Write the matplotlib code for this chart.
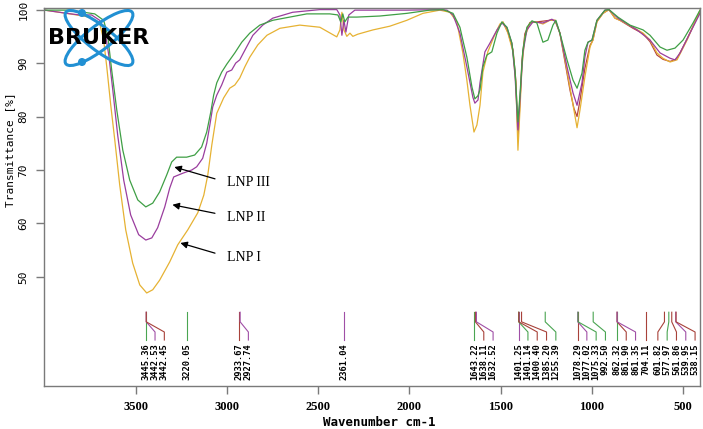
import matplotlib
matplotlib.use('Agg')
import matplotlib.pyplot as plt
from matplotlib.patches import Ellipse, Circle

# spectra: wavenumber (cm-1) and transmittance (%)
lnp1_wn = [4000, 3879, 3753, 3698, 3676, 3659, 3637, 3615, 3588, 3555, 3517, 3478, 3440, 3407,
           3369, 3314, 3270, 3215, 3160, 3127, 3105, 3083, 3056, 3018, 2985, 2957, 2930, 2902,
           2875, 2831, 2781, 2710, 2601, 2491, 2398, 2381, 2370, 2359, 2343, 2326, 2310, 2283,
           2200, 2107, 2014, 1926, 1833, 1778, 1740, 1707, 1685, 1668, 1646, 1630, 1613, 1597,
           1570, 1537, 1504, 1487, 1460, 1432, 1416, 1405, 1394, 1383, 1367, 1339, 1301, 1268,
           1230, 1202, 1175, 1147, 1120, 1098, 1081, 1065, 1038, 1010, 994, 972, 939, 906, 873,
           846, 774, 719, 681, 643, 610, 571, 533, 478, 423, 407]
lnp1_t = [99.9, 99.3, 98.6, 97.5, 94.3, 89.3, 82.1, 75.6, 67.2, 58.8, 52.6, 48.5, 47.0, 47.6,
          49.4, 52.8, 56.0, 58.8, 62.0, 65.3, 69.1, 74.7, 80.6, 83.5, 85.3, 85.9, 87.2, 89.3,
          91.1, 93.4, 95.2, 96.5, 97.1, 96.7, 94.9, 96.2, 99.5, 96.2, 95.0, 95.6, 95.0, 95.4,
          96.2, 96.9, 98.0, 99.3, 99.9, 99.5, 97.7, 91.9, 86.8, 82.1, 77.1, 78.4, 82.1, 88.3,
          92.1, 94.9, 97.3, 97.7, 95.6, 92.1, 85.9, 73.7, 81.2, 89.3, 94.9, 97.5, 97.7, 97.3,
          98.0, 98.0, 95.6, 90.6, 85.5, 81.2, 77.9, 81.2, 87.4, 93.0, 94.3, 97.7, 99.3, 100.0, 98.4,
          98.0, 96.7, 95.6, 94.3, 91.9, 90.9, 90.2, 90.6, 94.3, 98.6, 99.9]

lnp2_wn = [4000, 3918, 3879, 3808, 3742, 3698, 3670, 3648, 3626, 3599, 3566, 3528, 3484, 3445,
           3412, 3380, 3341, 3314, 3292, 3242, 3193, 3166, 3133, 3111, 3094, 3078, 3056, 3029,
           3001, 2974, 2952, 2930, 2902, 2858, 2804, 2749, 2640, 2491, 2398, 2381, 2370, 2359,
           2348, 2332, 2299, 2014, 1833, 1794, 1761, 1723, 1685, 1652, 1641, 1624, 1613, 1586,
           1559, 1520, 1493, 1465, 1438, 1421, 1405, 1394, 1378, 1356, 1323, 1268, 1219, 1197,
           1175, 1136, 1103, 1081, 1054, 1038, 1021, 999, 972, 928, 906, 857, 752, 681, 626,
           571, 544, 516, 462, 407]
lnp2_t = [99.9, 99.5, 99.3, 99.0, 99.0, 98.0, 96.2, 91.5, 85.0, 76.5, 68.1, 61.6, 57.9, 56.9,
          57.3, 59.2, 63.1, 66.6, 68.7, 69.4, 70.0, 70.6, 72.2, 75.0, 78.4, 81.8, 84.0, 85.9,
          88.3, 88.7, 90.0, 90.6, 92.4, 95.2, 97.1, 98.4, 99.5, 100.0, 100.0, 99.0, 95.2, 98.0,
          95.8, 99.0, 99.9, 99.9, 100.0, 99.9, 99.0, 95.6, 89.3, 83.6, 82.5, 83.1, 86.3, 92.1,
          93.7, 96.2, 97.5, 96.6, 93.7, 87.7, 77.5, 83.1, 91.9, 96.2, 97.7, 97.5, 98.2, 97.7,
          95.6, 89.3, 84.4, 82.1, 86.3, 91.1, 93.9, 94.3, 98.0, 99.9, 100.0, 98.4, 96.2, 94.3, 91.9,
          90.9, 90.6, 91.9, 95.6, 99.3]

lnp3_wn = [4000, 3863, 3725, 3676, 3654, 3632, 3604, 3571, 3533, 3489, 3445, 3407, 3369, 3330,
           3303, 3276, 3221, 3177, 3139, 3111, 3089, 3073, 3056, 3029, 3001, 2957, 2919, 2875,
           2820, 2749, 2656, 2562, 2436, 2392, 2376, 2365, 2354, 2337, 2288, 2162, 2014, 1888,
           1816, 1761, 1723, 1707, 1685, 1657, 1641, 1624, 1613, 1597, 1575, 1548, 1520, 1493,
           1465, 1438, 1421, 1405, 1394, 1378, 1356, 1328, 1301, 1284, 1268, 1241, 1213, 1197,
           1175, 1136, 1103, 1081, 1054, 1038, 1021, 999, 972, 928, 906, 857, 791, 719, 681,
           626, 588, 544, 500, 445, 407]
lnp3_t = [99.9, 99.9, 99.2, 98.0, 95.2, 88.7, 81.2, 73.7, 68.1, 64.4, 63.1, 63.8, 65.9, 69.1,
          71.5, 72.4, 72.4, 72.8, 74.3, 77.1, 80.8, 84.0, 86.3, 88.3, 89.8, 91.9, 93.9, 95.6,
          97.1, 98.0, 98.6, 99.2, 99.2, 99.0, 97.7, 99.2, 97.7, 98.6, 98.6, 98.8, 99.3, 99.9,
          100.0, 99.3, 96.7, 94.3, 91.1, 85.5, 83.3, 83.9, 85.0, 89.3, 91.5, 92.1, 95.6, 97.7,
          96.7, 93.7, 88.7, 79.0, 84.0, 92.4, 96.7, 97.9, 97.5, 95.6, 93.9, 94.3, 97.1, 98.0,
          95.6, 90.6, 86.8, 85.3, 88.1, 92.4, 93.9, 94.3, 98.0, 99.9, 100.0, 98.6, 97.1, 96.2, 95.2,
          93.0, 92.4, 92.8, 94.3, 97.5, 99.9]

# fourth (unlabelled) trace, mostly hidden under the others
red_wn = [1487, 1460, 1432, 1416, 1405, 1394, 1383, 1367, 1339, 1301, 1230, 1202, 1175, 1147,
          1120, 1098, 1081, 1065, 1038, 1010, 994, 972, 939, 906, 873, 846, 774, 719, 681, 643,
          610, 571, 533, 478, 423, 407]
red_t = [97.6, 95.8, 92.5, 86.5, 76.0, 82.5, 90.5, 95.5, 97.6, 97.7, 98.0, 98.0, 95.6, 90.2,
         85.0, 81.5, 80.0, 83.0, 89.0, 93.3, 94.3, 97.8, 99.3, 100.0, 98.4, 98.0, 96.5, 95.5,
         94.0, 91.5, 90.7, 90.3, 90.8, 94.5, 98.5, 99.5]

# peak picks (wavenumber, which spectrum)
peak_wn = [3445.36, 3442.53, 3442.45, 3220.05, 2933.67, 2927.74, 2361.04, 1643.22, 1638.11,
           1632.52, 1401.25, 1401.14, 1400.40, 1385.20, 1255.39, 1078.29, 1077.02, 1075.33,
           992.50, 862.32, 861.90, 861.35, 704.11, 601.82, 577.97, 561.86, 539.95, 538.15]
peak_src = ['g', 'p', 'r', 'g', 'r', 'p', 'p', 'g', 'r', 'p', 'p', 'g', 'r', 'r', 'g', 'r', 'p',
            'g', 'g', 'g', 'r', 'p', 'r', 'r', 'g', 'r', 'p', 'r']

sample_names = ['LNP III', 'LNP II', 'LNP I']

GREEN = '#3f9f45'
PURPLE = '#9a3d9e'
YELLOW = '#e6b233'
RED = '#b5453c'
PEAK_COL = {'g': '#4aa552', 'p': '#a04fa6', 'r': '#a8423a'}
MONO = 'DejaVu Sans Mono'
SERIF = 'Liberation Serif'

fig = plt.figure(figsize=(7.03, 4.29), dpi=100)
ax = fig.add_axes([44 / 703, 1 - 386 / 429, 656 / 703, 378 / 429])

ax.plot(red_wn, red_t, color=RED, lw=0.9)
ax.plot(lnp1_wn, lnp1_t, color=YELLOW, lw=0.9)
ax.plot(lnp2_wn, lnp2_t, color=PURPLE, lw=0.9)
ax.plot(lnp3_wn, lnp3_t, color=GREEN, lw=0.9)

ax.set_xlim(4003, 407)
ax.set_ylim(29.6, 100.3)

# peak label layout: push labels apart, keep them inside the frame
spacing = 51
right_limit = 434
lab = []
for w in peak_wn:
    lab.append(w if not lab else min(w, lab[-1] - spacing))
lab[-1] = max(lab[-1], right_limit)
for i in range(len(lab) - 2, -1, -1):
    lab[i] = max(lab[i], lab[i + 1] + spacing)

for w, lx, src in zip(peak_wn, lab, peak_src):
    c = PEAK_COL[src]
    if abs(lx - w) < 1:
        ax.plot([w, w], [43.4, 38.2], color=c, lw=0.8)
    else:
        ax.plot([w, w, lx, lx], [43.4, 41.6, 39.7, 38.2], color=c, lw=0.8)
    ax.text(lx, 37.6, f'{w:.2f}', rotation=90, ha='center', va='top',
            fontsize=6.3, family=MONO, fontweight='bold')

# sample arrows
arrow_tips = [(3303, 70.7), (3314, 63.6), (3270, 56.5)]
text_pos = [(3001, 67.6), (3001, 61.2), (3001, 53.7)]
for name, tip, tp in zip(sample_names, arrow_tips, text_pos):
    ax.annotate('', xy=tip, xytext=(tp[0] + 50, tp[1] + 0.6),
                arrowprops=dict(arrowstyle='-|>', color='black', lw=0.9, mutation_scale=10))
    ax.text(tp[0], tp[1], name, ha='left', va='center', fontsize=10, family=SERIF)

# axes styling
frame = '#7a7a7a'
for s in ax.spines.values():
    s.set_color(frame)
    s.set_linewidth(1.0)
ax.set_xticks([3500, 3000, 2500, 2000, 1500, 1000, 500])
ax.set_yticks([50, 60, 70, 80, 90, 100])
ax.tick_params(axis='both', direction='out', length=6, width=1, color=frame)
ax.tick_params(axis='x', pad=5)
ax.tick_params(axis='y', pad=5)
for t in ax.get_xticklabels():
    t.set_fontfamily(SERIF)
    t.set_fontweight('bold')
    t.set_fontsize(9)
for t in ax.get_yticklabels():
    t.set_fontfamily(MONO)
    t.set_fontsize(8)
    t.set_rotation(90)
    t.set_va('center')

fig.text(379 / 703, 1 - 423 / 429, 'Wavenumber cm-1', ha='center', va='center',
         fontsize=9, family=MONO, fontweight='bold')
fig.text(10 / 703, 1 - 150 / 429, 'Transmittance [%]', ha='center', va='center',
         rotation=90, fontsize=8, family=MONO)

# Bruker logo
lg = fig.add_axes([45 / 703, 1 - 70 / 429, 115 / 703, 65 / 429])
lg.set_xlim(45, 160)
lg.set_ylim(70, 5)
lg.axis('off')
blue = '#2190d3'
for ang in (38, -38):
    lg.add_patch(Ellipse((99, 38), 84, 24, angle=ang, fill=False, ec=blue, lw=2.2))
for cy in (13, 62):
    lg.add_patch(Circle((82, cy), 3.3, color=blue))
lg.text(99, 38.5, 'BRUKER', ha='center', va='center', fontsize=16,
        fontweight='heavy', family='DejaVu Sans', color='black')

fig.savefig('out.png', dpi=100)
